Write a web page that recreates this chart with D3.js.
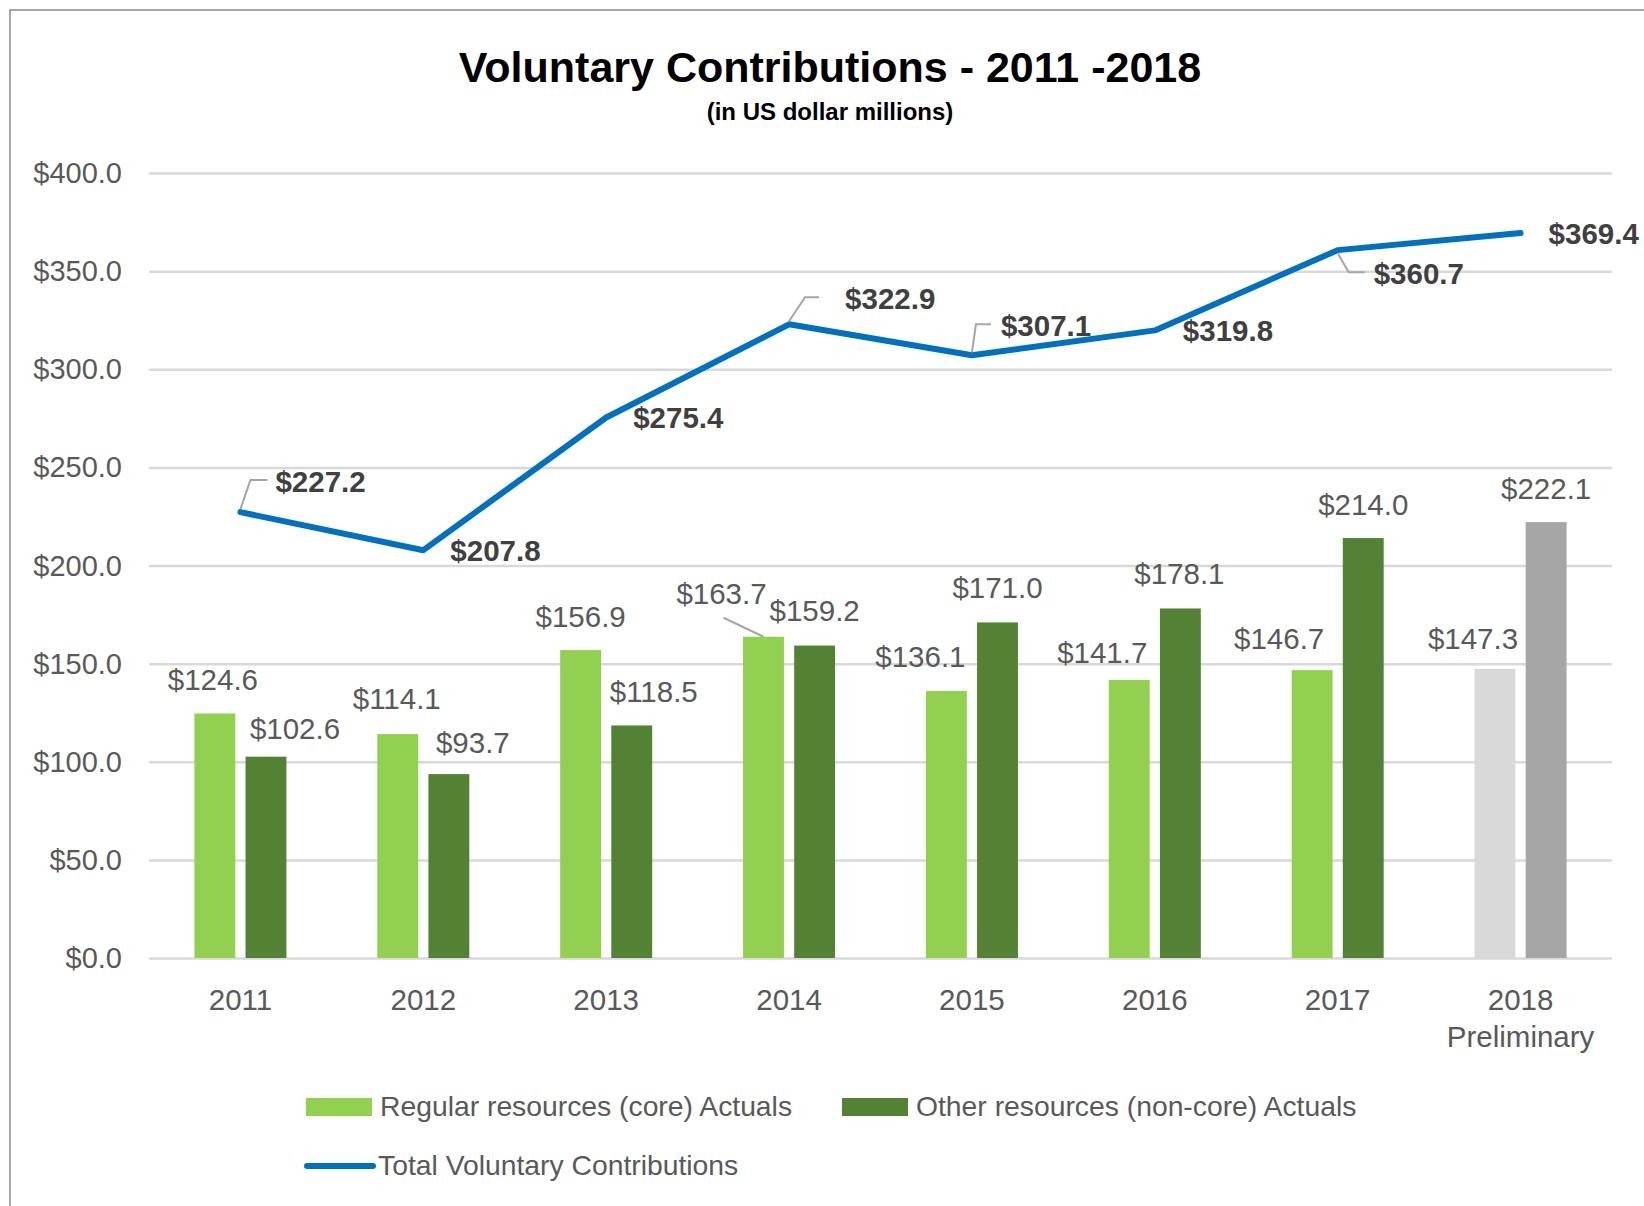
<!DOCTYPE html>
<html lang="en">
<head>
  <meta charset="utf-8">
  <title>Voluntary Contributions</title>
  <script src="https://cdn.jsdelivr.net/npm/d3@7"></script>
  <style>
    body { margin: 0; background: #fff; }
    text { font-family: "Liberation Sans", Arial, sans-serif; }
  </style>
</head>
<body>
  <svg width="1644" height="1206" id="mainsvg"></svg>
  <script>
    // data
    const years = ['2011', '2012', '2013', '2014', '2015', '2016', '2017', '2018'];
    const xTickLabels = [['2011'], ['2012'], ['2013'], ['2014'], ['2015'], ['2016'], ['2017'], ['2018', 'Preliminary']];
    const regular = [124.6, 114.1, 156.9, 163.7, 136.1, 141.7, 146.7, 147.3];
    const other = [102.6, 93.7, 118.5, 159.2, 171.0, 178.1, 214.0, 222.1];
    const total = [227.2, 207.8, 275.4, 322.9, 307.1, 319.8, 360.7, 369.4];
    const yTicks = [0, 50, 100, 150, 200, 250, 300, 350, 400];
    const prelimYear = '2018';

    // label nudges (px)
    const regNudge = [[-2, -32], [-1, -34], [0, -32], [-42, -42], [-26, -33], [-27, -26], [-33, -30], [-22, -29]];
    const othNudge = [[29, -26], [24, -30], [22, -32], [0, -33], [0, -33], [-1, -33], [0, -32], [0, -32]];
    const totNudge = [[35, -29], [27, 2], [27, 2], [56, -24], [29, -28], [28, 2], [36, 25], [28, 2]];
    // leader lines for total labels: [corner dx, end dx] relative to label left
    const totLeader = { 0: [-25, -8], 3: [-40, -26], 4: [-25, -10], 6: [-25, -9] };

    const svg = d3.select('#mainsvg');
    const fmt = v => '$' + d3.format('.1f')(v);

    const x = d3.scaleBand().domain(years).range([149, 1612]);
    const xSub = d3.scaleBand().domain(['regular', 'other']).range([-46, 46]).paddingInner(0.2);
    const y = d3.scaleLinear().domain([0, 400]).range([958, 173]);
    const cx = d => x(d) + x.bandwidth() / 2;

    const colors = {
      regular: '#92D050', other: '#548235',
      regularPre: '#D9D9D9', otherPre: '#A6A6A6',
      line: '#0070C0'
    };

    // frame
    svg.append('path').attr('d', 'M10,1206 L10,10 L1644,10')
      .attr('fill', 'none').attr('stroke', '#8c8c8c').attr('stroke-width', 1.5);

    // title
    svg.append('text').text('Voluntary Contributions - 2011 -2018')
      .attr('x', 830).attr('y', 82)
      .attr('text-anchor', 'middle').attr('font-size', 43).attr('font-weight', 'bold').attr('fill', '#000');
    svg.append('text').text('(in US dollar millions)')
      .attr('x', 830).attr('y', 120)
      .attr('text-anchor', 'middle').attr('font-size', 24).attr('font-weight', 'bold').attr('fill', '#000');

    // y axis + grid
    const yAxis = d3.axisLeft(y).tickValues(yTicks).tickSize(-(1612 - 149)).tickPadding(27)
      .tickFormat(fmt);
    const yg = svg.append('g').attr('transform', 'translate(149,0)').call(yAxis);
    yg.select('.domain').remove();
    yg.selectAll('.tick line').attr('stroke', '#D9D9D9').attr('stroke-width', 2.5);
    yg.selectAll('.tick text').attr('font-size', 29).attr('fill', '#595959').attr('dy', '0.33em')
      .attr('font-family', '"Liberation Sans", Arial, sans-serif');

    // x axis labels
    const xg = svg.append('g');
    years.forEach((yr, i) => {
      const t = xg.append('text').attr('x', cx(yr)).attr('y', 1010)
        .attr('text-anchor', 'middle').attr('font-size', 29.5).attr('fill', '#595959');
      xTickLabels[i].forEach((s, j) => {
        t.append('tspan').attr('x', cx(yr)).attr('dy', j === 0 ? 0 : 37).text(s);
      });
    });

    // bars
    const rows = years.map((yr, i) => ({ year: yr, i, regular: regular[i], other: other[i], total: total[i] }));
    const barG = svg.append('g');
    ['regular', 'other'].forEach(key => {
      barG.selectAll('.bar-' + key).data(rows).enter().append('rect')
        .attr('class', 'bar-' + key)
        .attr('x', d => cx(d.year) + xSub(key))
        .attr('width', xSub.bandwidth())
        .attr('y', d => y(d[key]))
        .attr('height', d => y(0) - y(d[key]))
        .attr('fill', d => d.year === prelimYear ? colors[key + 'Pre'] : colors[key]);
    });

    // bar labels
    const barLabels = svg.append('g');
    [['regular', regNudge], ['other', othNudge]].forEach(([key, nudge]) => {
      rows.forEach(d => {
        const bx = cx(d.year) + xSub(key) + xSub.bandwidth() / 2;
        const by = y(d[key]);
        barLabels.append('text').text(fmt(d[key]))
          .attr('x', bx + nudge[d.i][0]).attr('y', by + nudge[d.i][1])
          .attr('dy', '0.3em')
          .attr('text-anchor', 'middle').attr('font-size', 29.5).attr('fill', '#595959');
      });
    });
    // leader for 2014 regular label
    {
      const i = 3;
      const bx = cx(years[i]) + xSub('regular') + xSub.bandwidth() / 2;
      const by = y(regular[i]);
      svg.append('line')
        .attr('x1', bx - 40).attr('y1', by - 19).attr('x2', bx).attr('y2', by)
        .attr('stroke', '#A6A6A6').attr('stroke-width', 2);
    }

    // total line
    const line = d3.line().x(d => cx(d.year)).y(d => y(d.total));
    svg.append('path').datum(rows).attr('d', line)
      .attr('fill', 'none').attr('stroke', colors.line).attr('stroke-width', 6)
      .attr('stroke-linejoin', 'round').attr('stroke-linecap', 'round');

    // total labels + leaders
    const totG = svg.append('g');
    rows.forEach(d => {
      const px = cx(d.year), py = y(d.total);
      const lx = px + totNudge[d.i][0], ly = py + totNudge[d.i][1];
      if (totLeader[d.i]) {
        const [c, e] = totLeader[d.i];
        const sy = ly < py ? py - 3 : py + 3;
        totG.append('path')
          .attr('d', `M${px},${sy} L${lx + c},${ly - 3} L${lx + e},${ly - 3}`)
          .attr('fill', 'none').attr('stroke', '#A6A6A6').attr('stroke-width', 2);
      }
      totG.append('text').text(fmt(d.total))
        .attr('x', lx).attr('y', ly).attr('dy', '0.3em')
        .attr('font-size', 29.5).attr('font-weight', 'bold').attr('fill', '#404040');
    });

    // legend
    const legend = svg.append('g');
    const legItems = [
      { label: 'Regular resources (core) Actuals', color: colors.regular, x: 306, y: 1107, type: 'rect' },
      { label: 'Other resources (non-core) Actuals', color: colors.other, x: 842, y: 1107, type: 'rect' },
      { label: 'Total Voluntary Contributions', color: colors.line, x: 304, y: 1166, type: 'line' }
    ];
    legItems.forEach(it => {
      if (it.type === 'rect') {
        legend.append('rect').attr('x', it.x).attr('y', it.y - 9).attr('width', 66).attr('height', 18).attr('fill', it.color);
      } else {
        legend.append('line').attr('x1', it.x + 3).attr('x2', it.x + 69).attr('y1', it.y).attr('y2', it.y)
          .attr('stroke', it.color).attr('stroke-width', 6).attr('stroke-linecap', 'round');
      }
      legend.append('text').text(it.label)
        .attr('x', it.x + 74).attr('y', it.y).attr('dy', '0.33em')
        .attr('font-size', 28.3).attr('fill', '#595959');
    });
  </script>
</body>
</html>
